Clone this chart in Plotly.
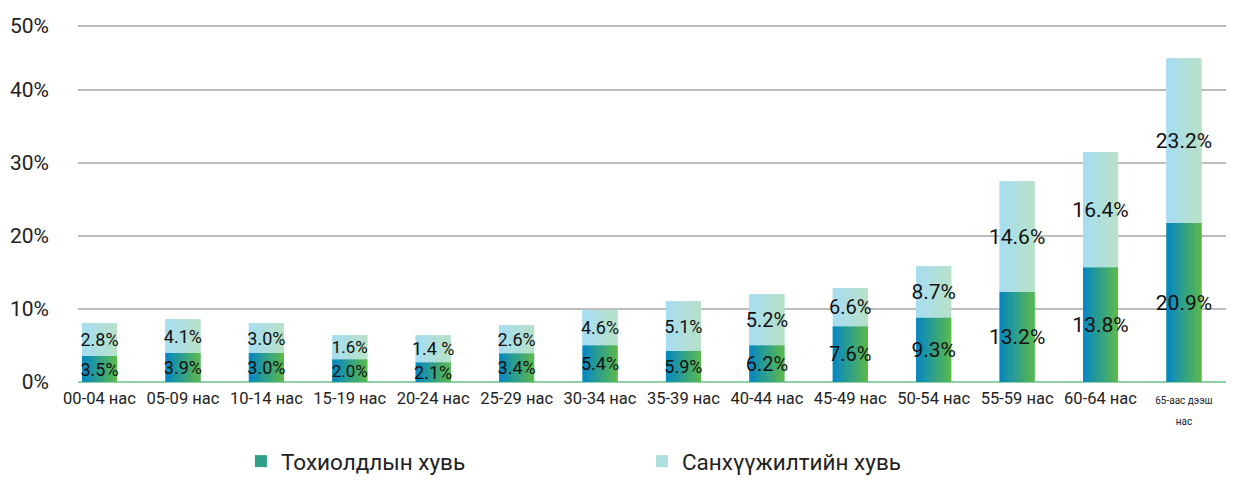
import plotly.graph_objects as go

categories = ["00-04 нас", "05-09 нас", "10-14 нас", "15-19 нас", "20-24 нас", "25-29 нас",
              "30-34 нас", "35-39 нас", "40-44 нас", "45-49 нас", "50-54 нас", "55-59 нас",
              "60-64 нас", "65-аас дээш нас"]
tick_labels = categories[:-1] + [
    "<span style='font-size:10px'>65-аас дээш</span><br><span style='font-size:10px'>нас</span>"]

# bar segment heights as drawn (percent)
incidence_vals = [3.56, 3.97, 3.97, 3.11, 2.70, 3.93, 5.03, 4.25, 5.03, 7.63, 8.82, 12.33, 15.71, 21.78]
funding_vals = [4.48, 4.62, 4.07, 3.31, 3.70, 3.84, 4.83, 6.80, 6.98, 5.21, 7.03, 15.16, 15.76, 22.56]

incidence_labels = ["3.5%", "3.9%", "3.0%", "2.0%", "2.1%", "3.4%", "5.4%", "5.9%", "6.2%",
                    "7.6%", "9.3%", "13.2%", "13.8%", "20.9%"]
funding_labels = ["2.8%", "4.1%", "3.0%", "1.6%", "1.4 %", "2.6%", "4.6%", "5.1%", "5.2%",
                  "6.6%", "8.7%", "14.6%", "16.4%", "23.2%"]
label_sizes = [18, 18, 18, 17, 18, 18, 18, 18, 20, 20, 21, 21, 21, 21]

y_tickvals = [0, 10, 20, 30, 40, 48.8]
y_ticktext = ["0%", "10%", "20%", "30%", "40%", "50%"]

series_names = ["Тохиолдлын хувь", "Санхүүжилтийн хувь"]

FONT = "Roboto, 'Open Sans', sans-serif"
BAR_W = 0.42
N_SLICES = 16

dark_left, dark_right = (4, 134, 199), (94, 187, 72)
light_left, light_right = (166, 221, 243), (184, 225, 198)


def mix(c1, c2, t):
    return "rgb(%d,%d,%d)" % tuple(round(a + (b - a) * t) for a, b in zip(c1, c2))


x_idx = list(range(len(categories)))
fig = go.Figure()

# base bars (legend entries)
fig.add_trace(go.Bar(x=x_idx, y=incidence_vals, base=[0] * len(x_idx), width=BAR_W,
                     marker=dict(color=mix(dark_left, dark_right, 0.5), line=dict(width=0)),
                     name=series_names[0], hoverinfo="skip"))
fig.add_trace(go.Bar(x=x_idx, y=funding_vals, base=incidence_vals, width=BAR_W,
                     marker=dict(color=mix(light_left, light_right, 0.5), line=dict(width=0)),
                     name=series_names[1], hoverinfo="skip"))

# gradient slices
sw = BAR_W / N_SLICES
for j in range(N_SLICES):
    t = (j + 0.5) / N_SLICES
    off = -BAR_W / 2 + j * sw
    w = sw * 1.15 if j < N_SLICES - 1 else sw
    fig.add_trace(go.Bar(x=x_idx, y=incidence_vals, base=[0] * len(x_idx), width=w, offset=off,
                         marker=dict(color=mix(dark_left, dark_right, t), line=dict(width=0)),
                         showlegend=False, hoverinfo="skip"))
    fig.add_trace(go.Bar(x=x_idx, y=funding_vals, base=incidence_vals, width=w, offset=off,
                         marker=dict(color=mix(light_left, light_right, t), line=dict(width=0)),
                         showlegend=False, hoverinfo="skip"))

# text layers
fig.add_trace(go.Bar(x=x_idx, y=incidence_vals, base=[0] * len(x_idx), width=BAR_W,
                     marker=dict(color="rgba(0,0,0,0)", line=dict(width=0)),
                     text=incidence_labels, textposition="inside", insidetextanchor="middle",
                     textangle=0, constraintext="none",
                     textfont=dict(family=FONT, size=label_sizes, color="#111111"),
                     showlegend=False, hoverinfo="skip"))
fig.add_trace(go.Bar(x=x_idx, y=funding_vals, base=incidence_vals, width=BAR_W,
                     marker=dict(color="rgba(0,0,0,0)", line=dict(width=0)),
                     text=funding_labels, textposition="inside", insidetextanchor="middle",
                     textangle=0, constraintext="none",
                     textfont=dict(family=FONT, size=label_sizes, color="#111111"),
                     showlegend=False, hoverinfo="skip"))

fig.update_layout(
    width=1226, height=475,
    margin=dict(l=70, r=0, t=9, b=101, autoexpand=False),
    barmode="overlay",
    plot_bgcolor="white", paper_bgcolor="white",
    font=dict(family=FONT, color="#222222"),
    showlegend=True,
    legend=dict(orientation="h", xref="container", yref="container",
                x=0.190, y=0.0, xanchor="left", yanchor="bottom",
                entrywidth=356, font=dict(size=22.5, color="#222222"),
                traceorder="normal", borderwidth=0),
    xaxis=dict(range=[-0.258, 13.60], tickmode="array", tickvals=x_idx, ticktext=tick_labels,
               showgrid=False, zeroline=False, showline=False, ticks="", automargin=False,
               ticklabelstandoff=4, tickfont=dict(size=16.5, color="#222222")),
    yaxis=dict(range=[0, 50], tickmode="array", tickvals=y_tickvals, ticktext=y_ticktext,
               showgrid=True, gridcolor="#bdbdbd", gridwidth=1.5,
               zeroline=True, zerolinecolor="#8fd1a9", zerolinewidth=2,
               showline=False, ticks="", ticklabelstandoff=28, automargin=False,
               tickfont=dict(size=21, color="#222222")),
)

fig.write_html("out.html")
